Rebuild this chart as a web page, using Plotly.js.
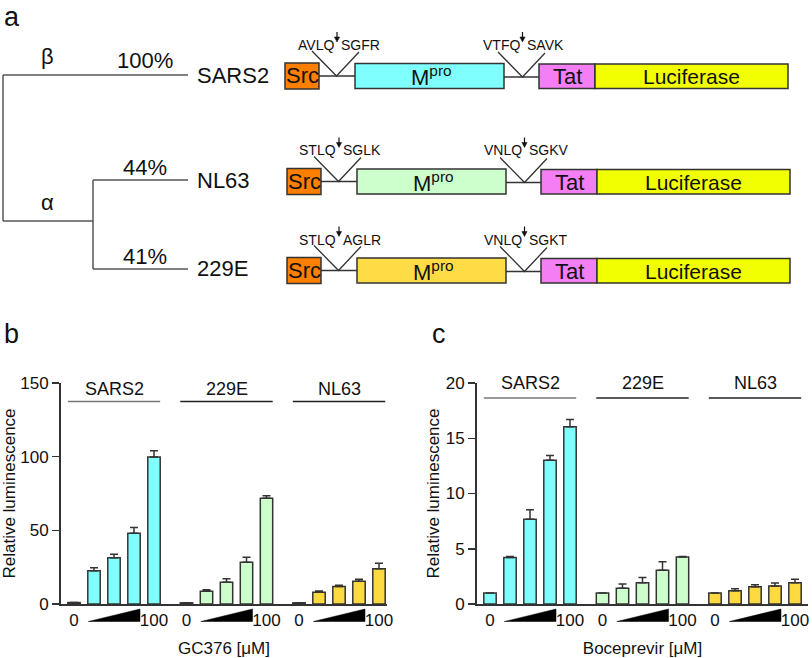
<!DOCTYPE html>
<html>
<head>
<meta charset="utf-8">
<script src="https://cdn.plot.ly/plotly-3.0.1.min.js"></script>
<style>html,body{margin:0;padding:0;background:#fff}#chart{width:812px;height:658px}</style>
</head>
<body>
<div id="chart"></div>
<script>
// ---------- data ----------
const viruses = ['SARS2', 'NL63', '229E'];
const identity = ['100%', '44%', '41%'];
const genusLabels = ['β', 'α'];
const site1 = [['AVLQ', 'SGFR'], ['STLQ', 'SGLK'], ['STLQ', 'AGLR']];
const site2 = [['VTFQ', 'SAVK'], ['VNLQ', 'SGKV'], ['VNLQ', 'SGKT']];
const mproColors = ['#80FFFF', '#CCFFCC', '#FFDB45'];

const groups = ['SARS2', '229E', 'NL63'];
const groupColors = ['#80FFFF', '#CCFFCC', '#FFD940'];
const doseTickText = ['0', '100'];

const gcSARS2 = [1.0, 22.6, 31.4, 48.0, 99.8];
const gcSARS2Err = [0, 2.0, 2.3, 4.0, 4.2];
const gc229E = [0.8, 8.6, 14.7, 28.3, 71.7];
const gc229EErr = [0, 1.0, 2.5, 3.4, 1.8];
const gcNL63 = [0.8, 7.9, 11.8, 15.4, 24.0];
const gcNL63Err = [0, 0.9, 0.9, 1.4, 3.6];

const bocSARS2 = [1.0, 4.2, 7.66, 13.0, 16.05];
const bocSARS2Err = [0, 0.1, 0.87, 0.45, 0.65];
const boc229E = [1.0, 1.42, 1.93, 3.05, 4.25];
const boc229EErr = [0, 0.38, 0.47, 0.78, 0.05];
const bocNL63 = [1.0, 1.2, 1.57, 1.63, 1.93];
const bocNL63Err = [0, 0.18, 0.18, 0.27, 0.3];

// ---------- helpers ----------
const W = 812, H = 658;
const FONT = 'Liberation Sans, Arial, sans-serif';
const px = x => x / W;
const py = y => 1 - y / H;
const STEP = 5.625;   // group spacing in bar units
const BW = 0.62;
const EDGE = '#333333';

const shapes = [];
const annotations = [];
function line(x0, y0, x1, y1, color, w) {
  shapes.push({type: 'line', xref: 'paper', yref: 'paper', x0: px(x0), y0: py(y0), x1: px(x1), y1: py(y1),
    line: {color: color, width: w}});
}
function rect(x0, y0, x1, y1, fill) {
  shapes.push({type: 'rect', xref: 'paper', yref: 'paper', x0: px(x0), y0: py(y0), x1: px(x1), y1: py(y1),
    fillcolor: fill, line: {color: EDGE, width: 1.5}});
}
function path(pts, fill, color, w) {
  let d = pts.map((p, i) => (i ? 'L' : 'M') + px(p[0]).toFixed(5) + ',' + py(p[1]).toFixed(5)).join(' ');
  if (fill) d += ' Z';
  shapes.push({type: 'path', xref: 'paper', yref: 'paper', path: d,
    fillcolor: fill || 'rgba(0,0,0,0)', line: {color: color, width: w}});
}
function text(t, x, y, size, xanchor) {
  annotations.push({text: t, xref: 'paper', yref: 'paper', x: px(x), y: py(y),
    xanchor: xanchor || 'center', yanchor: 'middle', showarrow: false,
    font: {family: FONT, size: size, color: '#111'}});
}

// ---------- panel a: tree ----------
const TREE = '#555555';
const leafY = [75, 180, 269];
line(3, leafY[0], 3, 221, TREE, 1.5);
line(3, leafY[0], 188, leafY[0], TREE, 1.5);
line(3, 221, 93, 221, TREE, 1.5);
line(93, leafY[1], 93, leafY[2], TREE, 1.5);
line(93, leafY[1], 188, leafY[1], TREE, 1.5);
line(93, leafY[2], 188, leafY[2], TREE, 1.5);
text(genusLabels[0], 47, 57, 22);
text(genusLabels[1], 47, 202, 22);
const pctY = [60.5, 167, 256];
viruses.forEach((v, i) => {
  text(identity[i], 145, pctY[i], 22);
  text(v, 195, leafY[i], 22, 'left');
});

// ---------- panel a: constructs ----------
const rowY = [76, 181.5, 270.5];
const rowShift = [-2, 0, 0];
function arrowDown(x, c) {
  line(x, c - 44, x, c - 38, '#111', 1.2);
  path([[x - 2.6, c - 39], [x + 2.6, c - 39], [x, c - 34]], '#111', '#111', 0.5);
}
viruses.forEach((v, r) => {
  const c = rowY[r], s = rowShift[r];
  line(321 + s, c, 357 + s, c, EDGE, 1.5);
  line(506 + s, c + 1, 541 + s, c + 1, EDGE, 1.5);
  path([[314 + s, c - 25], [338.5 + s, c], [361 + s, c - 24]], null, EDGE, 1.3);
  path([[500 + s, c - 24], [524.5 + s, c + 1], [547 + s, c - 23]], null, EDGE, 1.3);
  rect(287 + s, c - 13, 321 + s, c + 13, '#FF7F00');
  rect(357 + s, c - 12.5, 506 + s, c + 12.5, mproColors[r]);
  rect(541 + s, c - 12, 597 + s, c + 12.5, '#F47FF4');
  rect(597 + s, c - 12, 790 + s, c + 12.5, '#F2FF00');
  text('Src', 304 + s, c, 22);
  text('M<sup>pro</sup>', 433 + s, c, 22);
  text('Tat', 569 + s, c + 0.5, 22);
  text('Luciferase', 693 + s, c + 0.5, 21);
  arrowDown(339 + s, c);
  arrowDown(524.5 + s, c);
  text(site1[r][0], 338 + s, c - 31, 14, 'right');
  text(site1[r][1], 341 + s, c - 31, 14, 'left');
  text(site2[r][0], 523.5 + s, c - 31, 14, 'right');
  text(site2[r][1], 526.5 + s, c - 31, 14, 'left');
});

// panel letters
text('a', 2, 17, 27, 'left');
text('b', 2, 334, 27, 'left');
text('c', 430, 334, 27, 'left');

// ---------- panels b & c ----------
const gcData = [gcSARS2, gc229E, gcNL63];
const gcErr = [gcSARS2Err, gc229EErr, gcNL63Err];
const bocData = [bocSARS2, boc229E, bocNL63];
const bocErr = [bocSARS2Err, boc229EErr, bocNL63Err];

const traces = [];
function addPanel(vals, errs, xa, ya) {
  vals.forEach((ys, g) => {
    traces.push({
      type: 'bar', x: ys.map((_, i) => g * STEP + i), y: ys, width: BW,
      xaxis: xa, yaxis: ya, showlegend: false, name: groups[g],
      marker: {color: groupColors[g], line: {color: EDGE, width: 1.5}},
      error_y: {type: 'data', symmetric: false, array: errs[g], arrayminus: ys.map(() => 0),
        color: EDGE, thickness: 1.5, width: 4}
    });
  });
}
addPanel(gcData, gcErr, 'x', 'y');
addPanel(bocData, bocErr, 'x2', 'y2');

const tickVals = [], tickText = [];
groups.forEach((g, k) => {
  tickVals.push(k * STEP, k * STEP + 4);
  tickText.push(doseTickText[0], doseTickText[1]);
});

function panelDecor(xref, headerLabelY, headerLineY) {
  groups.forEach((g, k) => {
    const b = k * STEP;
    shapes.push({type: 'line', xref: xref, yref: 'paper', x0: b - BW / 2, x1: b + 4 + BW / 2,
      y0: py(headerLineY), y1: py(headerLineY), line: {color: k === 0 ? '#777' : '#222', width: 1.5}});
    annotations.push({text: g, xref: xref, yref: 'paper', x: b + 2, y: py(headerLabelY),
      xanchor: 'center', yanchor: 'middle', showarrow: false, font: {family: FONT, size: 18, color: '#111'}});
    shapes.push({type: 'path', xref: xref, yref: 'paper',
      path: 'M' + (b + 0.72) + ',' + py(621.5) + ' L' + (b + 3.3) + ',' + py(621.5) + ' L' + (b + 3.3) + ',' + py(609) + ' Z',
      fillcolor: '#000', line: {color: '#000', width: 0.5}});
  });
}
panelDecor('x', 388.5, 401.5);
panelDecor('x2', 383.5, 398);

const titleFont = {family: FONT, size: 17, color: '#111'};
const axisCommon = {showgrid: false, zeroline: false, showline: true, linecolor: EDGE, linewidth: 2,
  tickfont: {family: FONT, size: 17, color: '#111'}, automargin: false, fixedrange: true};
const xCommon = Object.assign({}, axisCommon, {tickmode: 'array', tickvals: tickVals, ticktext: tickText, ticks: ''});
const yCommon = Object.assign({}, axisCommon, {ticks: 'outside', ticklen: 7, tickwidth: 1.5, tickcolor: EDGE});

const layout = {
  width: W, height: H, margin: {l: 0, r: 0, t: 0, b: 0},
  paper_bgcolor: '#fff', plot_bgcolor: 'rgba(0,0,0,0)', showlegend: false, bargap: 0,
  font: {family: FONT, color: '#111'},
  xaxis: Object.assign({}, xCommon, {domain: [px(61), px(387)], range: [-0.65, 15.65], anchor: 'y',
    title: {text: 'GC376 [μM]', font: titleFont}}),
  yaxis: Object.assign({}, yCommon, {domain: [py(604), py(383)], range: [0, 150], tickvals: [0, 50, 100, 150], anchor: 'x',
    title: {text: 'Relative luminescence', font: titleFont}}),
  xaxis2: Object.assign({}, xCommon, {domain: [px(477), px(808)], range: [-0.65, 15.9], anchor: 'y2',
    title: {text: 'Boceprevir [μM]', font: titleFont}}),
  yaxis2: Object.assign({}, yCommon, {domain: [py(604), py(383)], range: [0, 20], tickvals: [0, 5, 10, 15, 20], anchor: 'x2',
    title: {text: 'Relative luminescence', font: titleFont, standoff: 2}}),
  shapes: shapes, annotations: annotations
};

Plotly.newPlot('chart', traces, layout, {staticPlot: true, displayModeBar: false});
</script>
</body>
</html>
